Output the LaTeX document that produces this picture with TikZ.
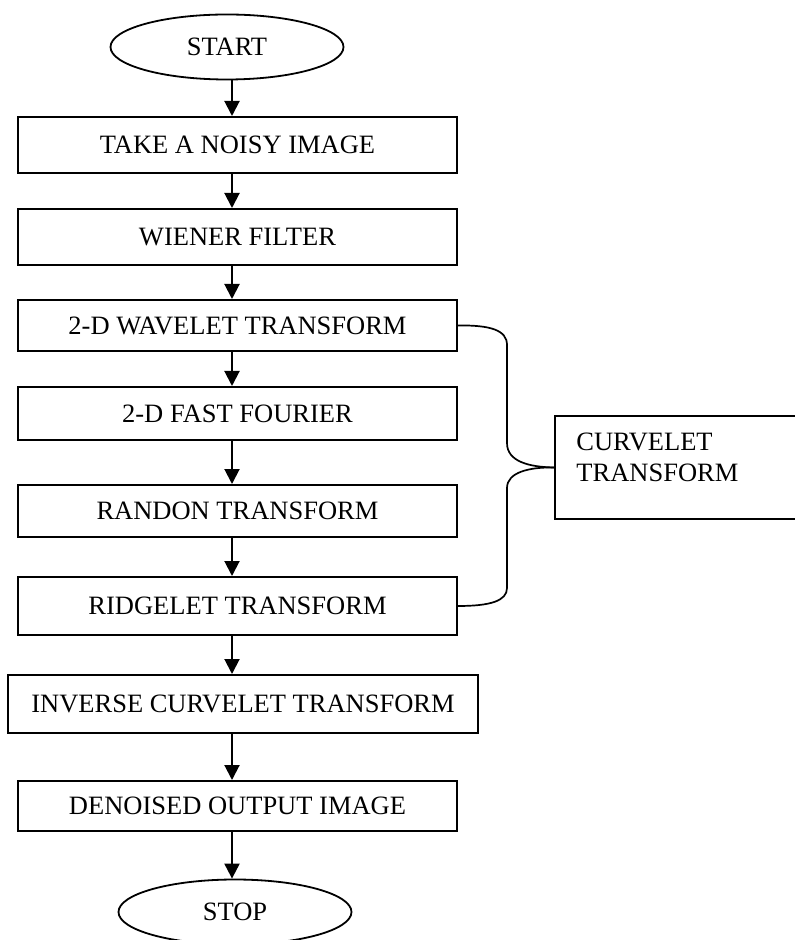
\documentclass[tikz,border=0pt]{standalone}
\usepackage{fontspec}
\setmainfont{Liberation Serif}
\usepackage{tikz}
\usetikzlibrary{shapes.geometric, arrows.meta}
\newcommand{\boxfont}{\fontsize{13.25}{15.5}\selectfont}

\begin{document}
\begin{tikzpicture}[x=0.5pt, y=-0.5pt, line cap=round, >={Triangle[width=7.5pt, length=7.5pt]},
        stepbox/.style={draw, line width=1pt, minimum width=219.5pt, inner sep=0pt, font=\boxfont},
        endpoint/.style={draw, ellipse, line width=0.9pt, minimum width=116.5pt, minimum height=32.5pt, inner sep=0pt, font=\boxfont},
        flow/.style={->, line width=1pt},
        brace/.style={line width=0.85pt}]
        \useasboundingbox (0,0) rectangle (795,940);
        \clip (0,0) rectangle (795,940);
        \coordinate (axis) at (232,0);
        \node[endpoint] (start) at (227,47) {START};
        \node[stepbox, minimum height=28pt] (take) at (237.5,145) {TAKE A NOISY IMAGE};
        \node[stepbox, minimum height=28pt] (wiener) at (237.5,237) {WIENER FILTER};
        \node[stepbox, minimum height=25.5pt] (wavelet) at (237.5,325.5) {2-D WAVELET TRANSFORM};
        \node[stepbox, minimum height=26.5pt] (fourier) at (237.5,413.5) {2-D FAST FOURIER};
        \node[stepbox, minimum height=26pt] (randon) at (237.5,511) {RANDON TRANSFORM};
        \node[stepbox, minimum height=29pt] (ridgelet) at (237.5,606) {RIDGELET TRANSFORM};
        \node[stepbox, minimum width=235pt, minimum height=29pt] (inverse) at (243,704) {INVERSE CURVELET TRANSFORM};
        \node[stepbox, minimum height=25pt] (denoised) at (237.5,806) {DENOISED OUTPUT IMAGE};
        \node[endpoint] (stop) at (235,912) {STOP};
        \node[stepbox, minimum width=122.5pt, minimum height=51.5pt] (curvelet) at (677.5,467.5) {};
        \node[anchor=north west, align=left, inner sep=0pt, font=\boxfont] (curvetext) at (576,433) {CURVELET\\TRANSFORM};
        \foreach \a/\b in {start/take, take/wiener, wiener/wavelet, wavelet/fourier, fourier/randon,
                randon/ridgelet, ridgelet/inverse, inverse/denoised, denoised/stop}
            \draw[flow] (\a.south -| axis) -- (\b.north -| axis);
        % the two arms of the curly bracket
        \coordinate (bendA) at (507,345);
        \coordinate (bendB) at (507,443);
        \coordinate (bendC) at (507,588);
        \coordinate (bendD) at (507,488);
        \draw[brace] (wavelet.east) .. controls (490,325) and (507,330) .. (bendA) -- (bendB)
            .. controls (507,462) and (530,467) .. (curvelet.west);
        \draw[brace] (ridgelet.east) .. controls (490,606) and (507,601) .. (bendC) -- (bendD)
            .. controls (507,472) and (530,467) .. (curvelet.west);
    \end{tikzpicture}
\end{document}
